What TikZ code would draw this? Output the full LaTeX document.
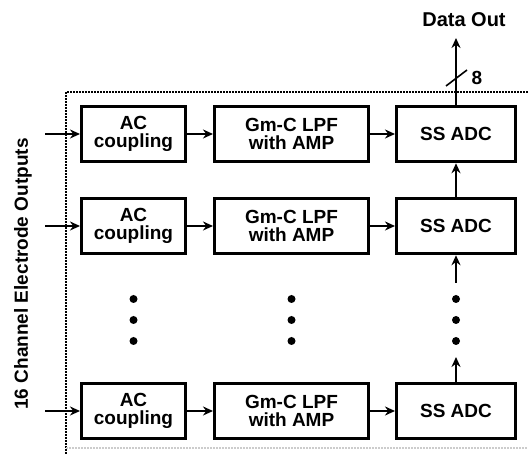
\documentclass[tikz,border=0pt]{standalone}
\usepackage{fontspec}
\setmainfont{Liberation Sans}
\usetikzlibrary{arrows.meta}
\begin{document}
\begin{tikzpicture}[x=1pt,y=-1pt,>={Stealth[length=10pt,width=9pt]},font=\fontsize{19}{18.5}\selectfont\bfseries]
	\tikzset{blk/.style={draw,line width=3pt,inner sep=0pt,minimum height=55.5pt,align=center},
		wire/.style={line width=2pt,->},
		bnd/.style={line width=1.3pt,dash pattern=on 2pt off 1pt}}
	\useasboundingbox (0,0) rectangle (528,454);
	\draw[bnd] (66,454)--(66,92)--(528,92);
	\draw[bnd,gray!40] (66,448)--(528,448);
	\foreach \r/\y in {1/134,2/226,3/411}{
		\node[blk,minimum width=104pt] (ac\r) at (133.5,\y) {AC\\coupling};
		\node[blk,minimum width=154pt] (lpf\r) at (291.5,\y) {Gm-C LPF\\with AMP};
		\node[blk,minimum width=119pt] (adc\r) at (456,\y) {SS ADC};
		\coordinate (in\r) at (45,\y);
		\draw[wire] (in\r)--(ac\r);
		\draw[wire] (ac\r)--(lpf\r);
		\draw[wire] (lpf\r)--(adc\r);
	}
	\foreach \x in {133.5,291.5,456}
	\foreach \y in {299,320,341}
	\fill (\x,\y) circle (4pt);
	\coordinate (d2) at (456,283);
	\coordinate (d3) at (456,357);
	\coordinate (out) at (456,38);
	\draw[wire] (adc2)--(adc1);
	\draw[wire] (d2)--(adc2.south);
	\draw[wire] (adc3)--(d3);
	\draw[wire] (adc1)--(out);
	\draw[line width=1.6pt] (446,86)--(467,70);
	\node (nb) at (477,78) {8};
	\node[font=\fontsize{20}{20}\selectfont\bfseries] (dout) at (464,20) {Data Out};
	\node[rotate=90] (lbl) at (23,274) {16 Channel Electrode Outputs};
\end{tikzpicture}
\end{document}
